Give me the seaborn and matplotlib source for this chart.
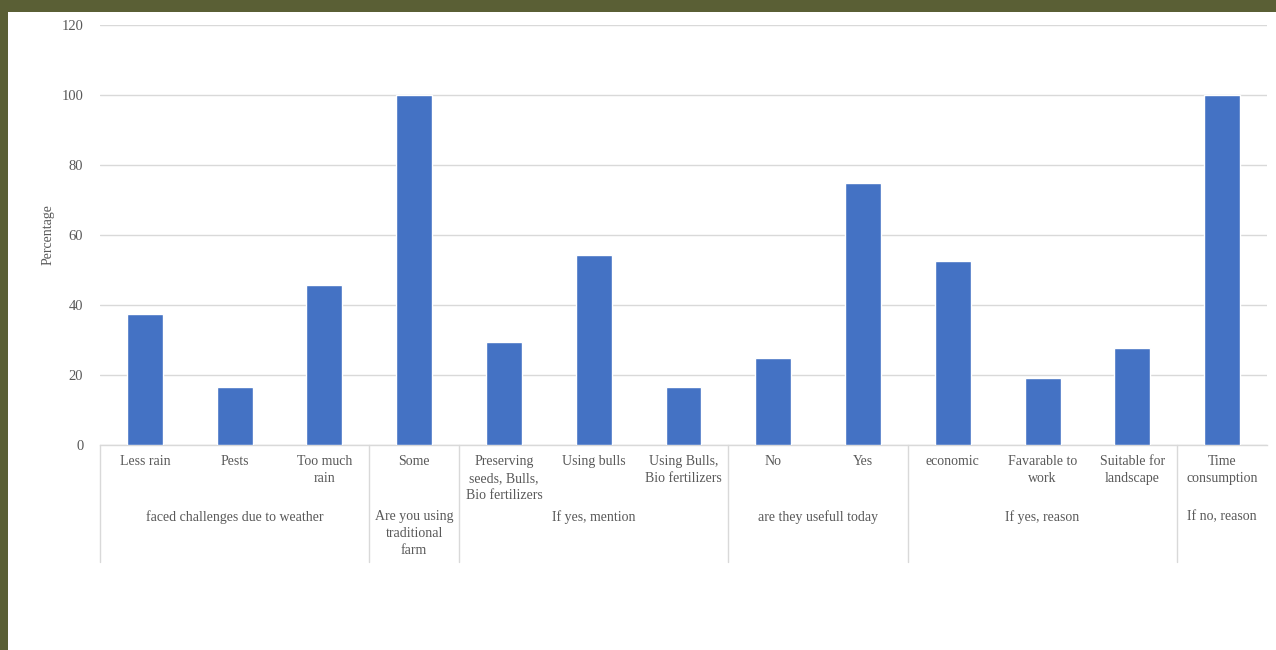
import matplotlib
matplotlib.use("Agg")
import matplotlib.pyplot as plt
import matplotlib.transforms as mtransforms
from matplotlib.patches import Rectangle
import seaborn as sns
import pandas as pd

categories = ["Less rain", "Pests", "Too much\nrain", "Some",
              "Preserving\nseeds, Bulls,\nBio fertilizers", "Using bulls",
              "Using Bulls,\nBio fertilizers", "No", "Yes", "economic",
              "Favarable to\nwork", "Suitable for\nlandscape", "Time\nconsumption"]
values = [37.5, 16.7, 45.8, 100, 29.4, 54.3, 16.7, 25, 75, 52.6, 19.1, 27.7, 100]
groups = ["faced challenges due to weather", "Are you using\ntraditional\nfarm",
          "If yes, mention", "are they usefull today", "If yes, reason", "If no, reason"]
group_sizes = [3, 1, 3, 2, 3, 1]
y_ticks = [0, 20, 40, 60, 80, 100, 120]

sns.set_theme(style="white")
plt.rcParams['font.family'] = ['Liberation Serif', 'DejaVu Serif']

fig = plt.figure(figsize=(12.76, 6.5), dpi=100)
fig.patch.set_facecolor("#5a5f35")
fig.patches.append(Rectangle((8 / 1276, 0), 1 - 8 / 1276, 1 - 12 / 650,
                             transform=fig.transFigure, facecolor="white",
                             edgecolor="none", zorder=-10))
ax = fig.add_axes([100 / 1276, 205 / 650, 1167 / 1276, 420 / 650])
ax.set_facecolor("none")

df = pd.DataFrame({"cat": categories, "val": values})
sns.barplot(data=df, x="cat", y="val", order=categories, color="#4472C4",
            saturation=1, width=0.4, ax=ax, zorder=3)

ax.set_ylim(0, 120)
ax.set_xlim(-0.5, len(categories) - 0.5)
ax.set_yticks(y_ticks)
ax.yaxis.grid(True, color="#d9d9d9", linewidth=1)
ax.set_axisbelow(True)
for s in ["top", "right", "left"]:
    ax.spines[s].set_visible(False)
ax.spines["bottom"].set_color("#d9d9d9")
ax.spines["bottom"].set_linewidth(1)
ax.tick_params(axis="y", length=0, labelsize=10.5, labelcolor="#595959", pad=12)
ax.tick_params(axis="x", length=0, labelsize=10, labelcolor="#595959", pad=7)
ax.set_xticks(range(len(categories)))
ax.set_xticklabels(categories, va="top")
for lbl in ax.get_xticklabels():
    lbl.set_linespacing(1.4)
ax.set_xlabel("")
ax.set_ylabel("Percentage", fontsize=10, color="#595959")
ax.yaxis.set_label_coords(-45 / 1167, 0.5)

trans = mtransforms.blended_transform_factory(ax.transData, ax.transAxes)
bounds = [-0.5]
for n in group_sizes:
    bounds.append(bounds[-1] + n)
for b in bounds[:-1]:
    ax.plot([b, b], [0, -117 / 420], transform=trans, color="#d9d9d9",
            linewidth=1, clip_on=False)
for i, g in enumerate(groups):
    cx = (bounds[i] + bounds[i + 1]) / 2
    ax.text(cx, -65 / 420, g, transform=trans, ha="center", va="top",
            fontsize=10, color="#595959", linespacing=1.4)

fig.savefig("out.png", dpi=100, facecolor=fig.get_facecolor())
